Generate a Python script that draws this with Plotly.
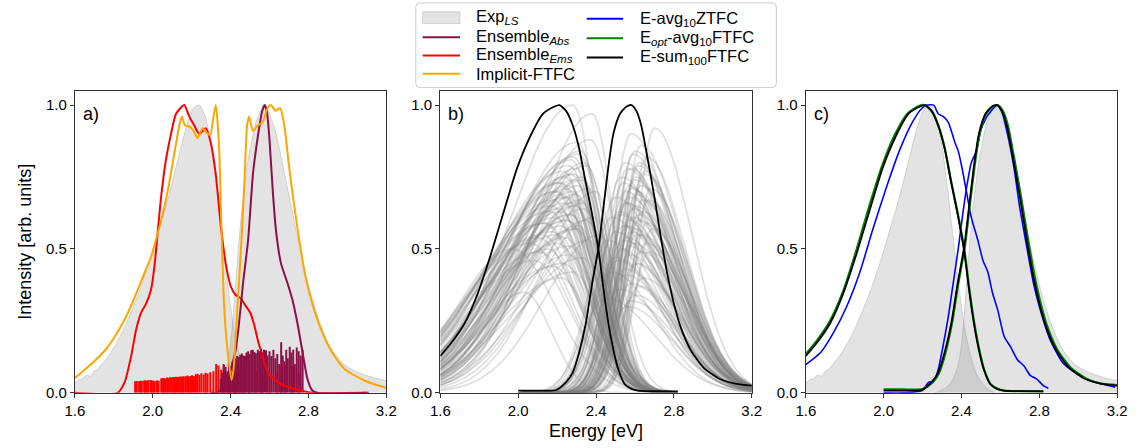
import numpy as np
import plotly.graph_objects as go

W, H = 1142, 448
FONT = "Liberation Sans, Arial, Helvetica, sans-serif"

# ---------------- data ----------------
# Experimental line shapes (Exp_LS)
exp_em_E = [1.60, 1.62, 1.64, 1.66, 1.68, 1.70, 1.72, 1.74, 1.78, 1.82, 1.86, 1.90, 1.94, 1.98,
            2.02, 2.06, 2.10, 2.14, 2.18, 2.21, 2.24, 2.27, 2.30, 2.33, 2.36, 2.39, 2.42, 2.45,
            2.48, 2.51, 2.54, 2.57]
exp_em_y = [0.035, 0.045, 0.050, 0.062, 0.058, 0.075, 0.085, 0.100, 0.135, 0.180, 0.235, 0.300,
            0.370, 0.450, 0.540, 0.630, 0.730, 0.840, 0.940, 0.990, 1.000, 0.960, 0.860, 0.700,
            0.520, 0.350, 0.210, 0.120, 0.060, 0.030, 0.012, 0.000]
exp_abs_E = [2.26, 2.30, 2.34, 2.37, 2.39, 2.41, 2.43, 2.45, 2.47, 2.49, 2.51, 2.53, 2.555, 2.58,
             2.60, 2.63, 2.66, 2.69, 2.72, 2.75, 2.78, 2.81, 2.85, 2.89, 2.93, 2.98, 3.04, 3.10,
             3.15, 3.20]
exp_abs_y = [0.000, 0.010, 0.030, 0.070, 0.120, 0.240, 0.420, 0.580, 0.710, 0.810, 0.880, 0.940,
             0.980, 1.000, 0.970, 0.910, 0.820, 0.720, 0.620, 0.520, 0.430, 0.350, 0.260, 0.190,
             0.140, 0.100, 0.075, 0.060, 0.050, 0.042]

# Ensemble (panel a)
ens_ems_E = [1.60, 1.82, 1.856, 1.89, 1.915, 1.941, 1.966, 1.992, 2.009, 2.026, 2.043, 2.068,
             2.094, 2.12, 2.162, 2.188, 2.213, 2.239, 2.273, 2.298, 2.324, 2.35, 2.375, 2.401,
             2.426, 2.45, 2.475, 2.50, 2.52, 2.545, 2.56, 2.585, 2.62, 2.66, 2.72, 2.78, 2.82, 3.10]
ens_ems_y = [0.0, 0.0, 0.037, 0.13, 0.22, 0.28, 0.31, 0.36, 0.44, 0.56, 0.68, 0.81, 0.90, 0.97,
             1.0, 0.96, 0.93, 0.90, 0.92, 0.87, 0.76, 0.58, 0.45, 0.37, 0.34, 0.33, 0.305, 0.28,
             0.24, 0.17, 0.14, 0.08, 0.05, 0.03, 0.015, 0.005, 0.0, 0.0]
ens_abs_E = [2.30, 2.33, 2.37, 2.40, 2.426, 2.44, 2.464, 2.49, 2.515, 2.54, 2.563, 2.575, 2.586,
             2.60, 2.617, 2.634, 2.659, 2.693, 2.719, 2.744, 2.77, 2.795, 2.82, 2.85, 3.11]
ens_abs_y = [0.0, 0.0, 0.03, 0.08, 0.15, 0.22, 0.38, 0.53, 0.76, 0.89, 0.98, 1.0, 0.98, 0.88,
             0.70, 0.56, 0.45, 0.38, 0.32, 0.24, 0.14, 0.048, 0.008, 0.0, 0.0]
implicit_E = [1.60, 1.65, 1.70, 1.755, 1.80, 1.856, 1.90, 1.96, 1.99, 2.02, 2.058, 2.085, 2.108,
              2.137, 2.150, 2.165, 2.19, 2.21, 2.23, 2.256, 2.275, 2.295, 2.31, 2.324, 2.34,
              2.353, 2.367, 2.384, 2.405, 2.415, 2.43, 2.456, 2.473, 2.485, 2.495, 2.515, 2.54,
              2.565, 2.59, 2.608, 2.63, 2.654, 2.676, 2.70, 2.727, 2.753, 2.786, 2.829, 2.871,
              2.922, 2.99, 3.09, 3.20]
implicit_y = [0.051, 0.08, 0.11, 0.148, 0.19, 0.255, 0.32, 0.42, 0.47, 0.54, 0.64, 0.73, 0.82,
              0.93, 0.96, 0.93, 0.925, 0.91, 0.885, 0.92, 0.905, 0.895, 0.95, 1.0, 0.87, 0.58,
              0.30, 0.15, 0.045, 0.08, 0.24, 0.53, 0.76, 0.93, 0.96, 0.91, 0.93, 0.94, 0.99, 1.0,
              0.98, 0.99, 0.93, 0.79, 0.65, 0.53, 0.40, 0.29, 0.21, 0.14, 0.08, 0.042, 0.017]

# stick spectra (panel a)
stick_ems_E = [1.910, 1.918, 1.930, 1.938, 1.944, 1.956, 1.962, 1.970, 1.978, 1.990, 1.996, 2.004,
               2.010, 2.022, 2.030, 2.044, 2.050, 2.058, 2.066, 2.074, 2.082, 2.090, 2.098, 2.106,
               2.114, 2.120, 2.130, 2.138, 2.146, 2.154, 2.160, 2.170, 2.178, 2.186, 2.194, 2.202,
               2.212, 2.222, 2.230, 2.240, 2.250, 2.262, 2.272, 2.282, 2.296, 2.312, 2.326, 2.338,
               2.352, 2.364, 2.380, 2.392, 2.404, 2.418, 2.428, 2.442, 2.456, 2.470, 2.495, 2.530,
               2.560, 2.600, 2.640, 2.660, 2.680, 2.715, 2.750]
stick_ems_h = [0.040, 0.041, 0.040, 0.042, 0.041, 0.043, 0.044, 0.042, 0.045, 0.045, 0.043, 0.042,
               0.040, 0.043, 0.042, 0.050, 0.052, 0.051, 0.050, 0.053, 0.052, 0.054, 0.053, 0.055,
               0.054, 0.056, 0.055, 0.057, 0.056, 0.058, 0.057, 0.058, 0.060, 0.057, 0.059, 0.061,
               0.058, 0.065, 0.066, 0.062, 0.068, 0.064, 0.070, 0.067, 0.072, 0.075, 0.100, 0.095,
               0.080, 0.100, 0.068, 0.070, 0.068, 0.065, 0.070, 0.080, 0.090, 0.060, 0.105, 0.080,
               0.070, 0.060, 0.075, 0.097, 0.097, 0.095, 0.068]
stick_abs_E = [2.350, 2.358, 2.366, 2.374, 2.384, 2.392, 2.400, 2.410, 2.418, 2.426,
               2.434, 2.442, 2.450, 2.458, 2.466, 2.474, 2.482, 2.490, 2.498, 2.506,
               2.514, 2.522, 2.530, 2.540, 2.548, 2.556, 2.564, 2.572, 2.582, 2.590,
               2.600, 2.610, 2.620, 2.630, 2.640, 2.650, 2.660, 2.668, 2.676, 2.686,
               2.694, 2.704, 2.712, 2.722, 2.730, 2.740, 2.750, 2.760, 2.770]
stick_abs_h = [0.050, 0.070, 0.097, 0.090, 0.075, 0.100, 0.060, 0.110, 0.125, 0.120,
               0.128, 0.125, 0.132, 0.137, 0.130, 0.128, 0.140, 0.145, 0.135, 0.148,
               0.150, 0.142, 0.138, 0.150, 0.145, 0.152, 0.140, 0.150, 0.148, 0.130,
               0.145, 0.128, 0.150, 0.120, 0.135, 0.100, 0.176, 0.130, 0.110, 0.150,
               0.120, 0.160, 0.140, 0.150, 0.100, 0.158, 0.145, 0.130, 0.150]

# individual ensemble members (panel b): peak position, height, left / right widths
mem_em_c = [2.28, 2.38, 2.37, 2.30, 2.32, 2.28, 2.34, 2.26, 2.30, 2.27, 2.24, 2.29, 2.22, 2.31,
            2.25, 2.20, 2.28, 2.23, 2.26, 2.18, 2.24, 2.29, 2.21, 2.16, 2.27, 2.19, 2.25, 2.14,
            2.22, 2.30, 2.17, 2.12, 2.24, 2.10, 2.20, 2.06, 2.15, 1.97, 2.26, 2.08, 2.18, 2.03,
            2.22, 2.35, 2.40, 2.33, 2.42, 2.33,
            2.31, 2.27, 2.35, 2.23, 2.29, 2.33, 2.21, 2.26, 2.36, 2.19, 2.30, 2.24, 2.32, 2.28,
            2.17, 2.34, 2.22, 2.27, 2.39, 2.25, 2.13, 2.31, 2.29, 2.20, 2.36, 2.26, 2.11, 2.33,
            2.23, 2.28]
mem_em_h = [1.00, 0.97, 0.88, 0.87, 0.84, 0.82, 0.80, 0.79, 0.78, 0.76, 0.75, 0.74, 0.73, 0.72,
            0.71, 0.70, 0.70, 0.69, 0.68, 0.67, 0.66, 0.65, 0.64, 0.63, 0.62, 0.61, 0.60, 0.59,
            0.58, 0.57, 0.56, 0.55, 0.54, 0.54, 0.52, 0.52, 0.50, 0.50, 0.48, 0.46, 0.44, 0.35,
            0.40, 0.60, 0.70, 0.75, 0.55, 0.66,
            0.83, 0.81, 0.79, 0.77, 0.76, 0.74, 0.73, 0.72, 0.71, 0.70, 0.69, 0.68, 0.67, 0.66,
            0.65, 0.64, 0.63, 0.62, 0.61, 0.60, 0.59, 0.58, 0.57, 0.55, 0.53, 0.51, 0.49, 0.47,
            0.45, 0.42]
mem_em_wl = [0.32, 0.29, 0.31, 0.34, 0.33, 0.35, 0.31, 0.35, 0.33, 0.34, 0.35, 0.32, 0.36, 0.32,
             0.34, 0.36, 0.31, 0.35, 0.33, 0.37, 0.34, 0.32, 0.35, 0.37, 0.33, 0.35, 0.34, 0.37,
             0.35, 0.31, 0.36, 0.36, 0.33, 0.34, 0.34, 0.35, 0.33, 0.28, 0.32, 0.34, 0.33, 0.22,
             0.32, 0.30, 0.28, 0.29, 0.28, 0.32,
             0.33, 0.35, 0.32, 0.36, 0.34, 0.33, 0.37, 0.35, 0.31, 0.37, 0.34, 0.36, 0.33, 0.35,
             0.38, 0.32, 0.36, 0.34, 0.30, 0.35, 0.37, 0.33, 0.34, 0.36, 0.31, 0.35, 0.36, 0.32,
             0.35, 0.34]
mem_em_wr = [0.12, 0.11, 0.13, 0.14, 0.12, 0.15, 0.13, 0.14, 0.12, 0.15, 0.14, 0.13, 0.16, 0.12,
             0.15, 0.16, 0.14, 0.13, 0.16, 0.17, 0.14, 0.15, 0.15, 0.18, 0.13, 0.16, 0.17, 0.18,
             0.15, 0.14, 0.17, 0.19, 0.16, 0.20, 0.18, 0.20, 0.17, 0.22, 0.15, 0.19, 0.16, 0.14,
             0.15, 0.12, 0.10, 0.11, 0.10, 0.12,
             0.13, 0.14, 0.12, 0.15, 0.13, 0.12, 0.15, 0.14, 0.11, 0.16, 0.13, 0.15, 0.12, 0.14,
             0.17, 0.12, 0.15, 0.14, 0.11, 0.15, 0.18, 0.13, 0.14, 0.16, 0.12, 0.15, 0.18, 0.12,
             0.16, 0.14]
mem_abs_c = [2.70, 2.58, 2.63, 2.60, 2.66, 2.55, 2.62, 2.58, 2.65, 2.53, 2.60, 2.57, 2.68, 2.55,
             2.61, 2.50, 2.64, 2.56, 2.59, 2.52, 2.62, 2.48, 2.57, 2.66, 2.54, 2.60, 2.50, 2.63,
             2.56, 2.46, 2.59, 2.53, 2.67, 2.57, 2.51, 2.61, 2.55, 2.48, 2.64, 2.58, 2.52, 2.60,
             2.45, 2.56,
             2.59, 2.62, 2.56, 2.65, 2.60, 2.54, 2.63, 2.58, 2.61, 2.57, 2.67, 2.55, 2.60, 2.64,
             2.52, 2.59, 2.62, 2.56, 2.69, 2.58, 2.61, 2.54, 2.66, 2.57, 2.63, 2.50, 2.60, 2.55,
             2.62, 2.58]
mem_abs_h = [0.92, 0.90, 0.86, 0.84, 0.82, 0.80, 0.79, 0.78, 0.76, 0.75, 0.74, 0.72, 0.71, 0.70,
             0.69, 0.68, 0.67, 0.66, 0.64, 0.63, 0.62, 0.61, 0.60, 0.59, 0.58, 0.57, 0.56, 0.55,
             0.54, 0.53, 0.52, 0.50, 0.49, 0.48, 0.46, 0.45, 0.43, 0.42, 0.40, 0.38, 0.36, 0.34,
             0.33, 0.30,
             0.83, 0.80, 0.78, 0.77, 0.75, 0.73, 0.72, 0.71, 0.70, 0.68, 0.67, 0.66, 0.65, 0.63,
             0.62, 0.61, 0.60, 0.58, 0.57, 0.56, 0.55, 0.53, 0.52, 0.51, 0.49, 0.47, 0.45, 0.41,
             0.37, 0.32]
mem_abs_wl = [0.09, 0.10, 0.09, 0.10, 0.09, 0.11, 0.09, 0.10, 0.09, 0.11, 0.10, 0.09, 0.08, 0.10,
              0.09, 0.11, 0.09, 0.10, 0.09, 0.11, 0.09, 0.11, 0.10, 0.08, 0.10, 0.09, 0.11, 0.09,
              0.10, 0.11, 0.09, 0.10, 0.08, 0.10, 0.11, 0.09, 0.10, 0.11, 0.08, 0.10, 0.11, 0.09,
              0.12, 0.10,
              0.09, 0.10, 0.09, 0.10, 0.09, 0.10, 0.09, 0.10, 0.09, 0.10, 0.09, 0.10, 0.09, 0.10,
              0.11, 0.09, 0.10, 0.09, 0.09, 0.10, 0.09, 0.11, 0.10, 0.09, 0.10, 0.11, 0.09, 0.10,
              0.09, 0.10]
mem_abs_wr = [0.19, 0.22, 0.21, 0.23, 0.20, 0.24, 0.21, 0.22, 0.21, 0.24, 0.23, 0.22, 0.20, 0.24,
              0.22, 0.25, 0.21, 0.23, 0.24, 0.23, 0.21, 0.25, 0.23, 0.22, 0.24, 0.22, 0.24, 0.23,
              0.21, 0.25, 0.23, 0.22, 0.22, 0.24, 0.23, 0.21, 0.24, 0.23, 0.22, 0.23, 0.24, 0.22,
              0.25, 0.23,
              0.22, 0.21, 0.23, 0.20, 0.22, 0.24, 0.21, 0.23, 0.22, 0.24, 0.20, 0.23, 0.22, 0.21,
              0.25, 0.22, 0.23, 0.24, 0.20, 0.22, 0.23, 0.25, 0.21, 0.22, 0.23, 0.25, 0.22, 0.24,
              0.21, 0.23]

# E-sum_100 FTFC (panels b, c)
esum_em_E = [1.60, 1.657, 1.725, 1.792, 1.859, 1.926, 1.994, 2.061, 2.128, 2.187, 2.212, 2.246,
             2.28, 2.313, 2.347, 2.38, 2.414, 2.439, 2.464, 2.489, 2.514, 2.548, 2.582, 2.615,
             2.70, 2.82]
esum_em_y = [0.128, 0.174, 0.242, 0.345, 0.48, 0.63, 0.78, 0.89, 0.97, 0.995, 1.0, 0.98, 0.93,
             0.85, 0.73, 0.62, 0.49, 0.356, 0.24, 0.15, 0.082, 0.03, 0.014, 0.008, 0.006, 0.005]
esum_abs_E = [2.00, 2.10, 2.196, 2.246, 2.28, 2.313, 2.347, 2.38, 2.414, 2.439, 2.464, 2.489,
              2.523, 2.557, 2.582, 2.607, 2.632, 2.666, 2.70, 2.733, 2.767, 2.80, 2.834, 2.885,
              2.952, 3.036, 3.12, 3.20]
esum_abs_y = [0.008, 0.008, 0.01, 0.037, 0.07, 0.14, 0.24, 0.38, 0.51, 0.65, 0.79, 0.90, 0.97,
              0.995, 1.0, 0.98, 0.93, 0.81, 0.68, 0.54, 0.41, 0.31, 0.23, 0.15, 0.088, 0.048,
              0.031, 0.025]
# E_opt-avg_10 FTFC (panel c)
eopt_em_E = [1.60, 1.655, 1.72, 1.79, 1.855, 1.92, 1.99, 2.056, 2.124, 2.184, 2.21, 2.245, 2.28,
             2.314, 2.348, 2.382, 2.416, 2.441, 2.466, 2.491, 2.516, 2.55, 2.585, 2.62, 2.70, 2.82]
eopt_em_y = [0.135, 0.18, 0.245, 0.35, 0.485, 0.635, 0.785, 0.895, 0.972, 0.998, 1.0, 0.98, 0.93,
             0.85, 0.73, 0.62, 0.49, 0.356, 0.24, 0.15, 0.082, 0.03, 0.014, 0.008, 0.006, 0.005]
eopt_abs_E = [2.00, 2.10, 2.20, 2.25, 2.284, 2.317, 2.35, 2.383, 2.417, 2.442, 2.467, 2.492,
              2.526, 2.56, 2.586, 2.612, 2.638, 2.672, 2.706, 2.74, 2.774, 2.807, 2.841, 2.892,
              2.96, 3.044, 3.126, 3.20]
eopt_abs_y = [0.012, 0.012, 0.013, 0.035, 0.068, 0.138, 0.238, 0.378, 0.508, 0.648, 0.788, 0.898,
              0.97, 0.995, 1.0, 0.98, 0.93, 0.81, 0.68, 0.54, 0.41, 0.31, 0.23, 0.15, 0.088,
              0.048, 0.031, 0.027]
# E-avg_10 ZTFC (panel c)
eavg_em_E = [1.60, 1.676, 1.743, 1.81, 1.878, 1.945, 2.012, 2.08, 2.147, 2.198, 2.223, 2.257,
             2.28, 2.307, 2.332, 2.366, 2.383, 2.40, 2.425, 2.45, 2.484, 2.51, 2.535, 2.56, 2.585,
             2.619, 2.652, 2.686, 2.72, 2.754, 2.787, 2.82, 2.846]
eavg_em_y = [0.098, 0.14, 0.21, 0.30, 0.42, 0.57, 0.71, 0.84, 0.94, 0.99, 1.0, 1.0, 0.97, 0.96,
             0.94, 0.87, 0.84, 0.79, 0.70, 0.61, 0.53, 0.46, 0.42, 0.345, 0.29, 0.196, 0.16,
             0.116, 0.094, 0.06, 0.048, 0.025, 0.016]
eavg_abs_E = [2.00, 2.10, 2.198, 2.231, 2.257, 2.28, 2.307, 2.332, 2.357, 2.383, 2.408, 2.43,
              2.45, 2.476, 2.50, 2.526, 2.552, 2.585, 2.61, 2.636, 2.67, 2.70, 2.737, 2.77, 2.804,
              2.855, 2.92, 3.006, 3.09, 3.19]
eavg_abs_y = [0.0, 0.0, 0.008, 0.037, 0.04, 0.08, 0.17, 0.265, 0.38, 0.50, 0.63, 0.73, 0.80,
              0.84, 0.915, 0.955, 0.98, 1.0, 0.97, 0.90, 0.78, 0.64, 0.50, 0.38, 0.29, 0.185,
              0.105, 0.06, 0.037, 0.02]

x_ticks = [1.6, 2.0, 2.4, 2.8, 3.2]
y_ticks = [0.0, 0.5, 1.0]
panel_labels = ["a)", "b)", "c)"]
legend_col1 = ["Exp<sub><i>LS</i></sub>", "Ensemble<sub><i>Abs</i></sub>",
               "Ensemble<sub><i>Ems</i></sub>", "Implicit-FTFC"]
legend_col2 = ["E-avg<sub>10</sub>ZTFC", "E<sub><i>opt</i></sub>-avg<sub>10</sub>FTFC",
               "E-sum<sub>100</sub>FTFC"]

# ---------------- styles ----------------
C_ABS = "#8b1045"
C_EMS = "#ff0000"
C_IMP = "#ffa500"
C_BLUE = "#0000ff"
C_GREEN = "#008000"
C_BLACK = "#000000"
FILL = "rgba(128,128,128,0.22)"
FILL_EDGE = "rgba(128,128,128,0.28)"
GREY = "rgba(128,128,128,0.25)"

fig = go.Figure()


def line(x, y, color, width, ax, shape="spline"):
    fig.add_trace(go.Scatter(x=x, y=y, mode="lines",
                             line=dict(color=color, width=width, shape=shape, smoothing=0.6),
                             xaxis="x" + ax, yaxis="y" + ax, showlegend=False,
                             hoverinfo="skip"))


def fill(x, y, ax):
    fig.add_trace(go.Scatter(x=x, y=y, mode="lines", fill="tozeroy", fillcolor=FILL,
                             line=dict(color=FILL_EDGE, width=1, shape="spline", smoothing=0.6),
                             xaxis="x" + ax, yaxis="y" + ax, showlegend=False,
                             hoverinfo="skip"))


def sticks(E, h, color, ax):
    xs, ys = [], []
    for e, v in zip(E, h):
        xs += [e, e, None]
        ys += [0, v, None]
    fig.add_trace(go.Scatter(x=xs, y=ys, mode="lines", line=dict(color=color, width=2),
                             xaxis="x" + ax, yaxis="y" + ax, showlegend=False,
                             hoverinfo="skip"))


def member(c, h, wl, wr, lo, hi, ax):
    E = np.linspace(lo, hi, 160)
    s = np.where(E < c, wl, wr)
    y = h * np.exp(-0.5 * ((E - c) / s) ** 2)
    line(E, y, GREY, 1.7, ax, shape="linear")


# panel a
fill(exp_em_E, exp_em_y, "")
fill(exp_abs_E, exp_abs_y, "")
sticks(stick_ems_E, stick_ems_h, C_EMS, "")
sticks(stick_abs_E, stick_abs_h, C_ABS, "")
line(ens_ems_E, ens_ems_y, C_EMS, 2, "")
line(ens_abs_E, ens_abs_y, C_ABS, 2, "")
line(implicit_E, implicit_y, C_IMP, 2, "")

# panel b
for c, h, wl, wr in zip(mem_em_c, mem_em_h, mem_em_wl, mem_em_wr):
    member(c, h, wl, wr, 1.6, 2.82, "2")
for c, h, wl, wr in zip(mem_abs_c, mem_abs_h, mem_abs_wl, mem_abs_wr):
    member(c, h, wl, wr, 2.0, 3.2, "2")
line(esum_em_E, esum_em_y, C_BLACK, 1.8, "2")
line(esum_abs_E, esum_abs_y, C_BLACK, 1.8, "2")

# panel c
fill(exp_em_E, exp_em_y, "3")
fill(exp_abs_E, exp_abs_y, "3")
line(eavg_em_E, eavg_em_y, C_BLUE, 1.6, "3")
line(eavg_abs_E, eavg_abs_y, C_BLUE, 1.6, "3")
line(eopt_em_E, eopt_em_y, C_GREEN, 2.2, "3")
line(eopt_abs_E, eopt_abs_y, C_GREEN, 2.2, "3")
line(esum_em_E, esum_em_y, C_BLACK, 1.8, "3")
line(esum_abs_E, esum_abs_y, C_BLACK, 1.8, "3")

# ---------------- layout ----------------
def PX(x):
    return x / W


def PY(y):
    return 1 - y / H


ydom = [PY(400), PY(93)]
xdoms = [[PX(66), PX(383)], [PX(438), PX(755)], [PX(810), PX(1127)]]
axis_common = dict(showline=True, mirror=True, linecolor="#333333", linewidth=1.2,
                   ticks="outside", ticklen=4, tickwidth=1.2, tickcolor="#333333",
                   showgrid=False, zeroline=False,
                   tickfont=dict(family=FONT, size=15, color="black"))
layout = dict(width=W, height=H, margin=dict(l=0, r=0, t=0, b=0),
              paper_bgcolor="white", plot_bgcolor="white", showlegend=False)
for i, dom in enumerate(xdoms):
    sfx = "" if i == 0 else str(i + 1)
    layout["xaxis" + sfx] = dict(domain=dom, range=[1.6, 3.2], tickvals=x_ticks,
                                 tickformat=".1f", anchor="y" + sfx, **axis_common)
    layout["yaxis" + sfx] = dict(domain=ydom, range=[0, 1.0478], tickvals=y_ticks,
                                 tickformat=".1f", anchor="x" + sfx, **axis_common)
fig.update_layout(**layout)

ann = []
shapes = []
for i, lab in enumerate(panel_labels):
    x0 = [66, 438, 810][i]
    ann.append(dict(x=PX(x0 + 6), y=PY(116), xref="paper", yref="paper", text=lab,
                    showarrow=False, xanchor="left", yanchor="middle",
                    font=dict(family=FONT, size=18, color="black")))
ann.append(dict(x=PX(596.5), y=PY(439), xref="paper", yref="paper", text="Energy [eV]",
                showarrow=False, xanchor="center", yanchor="middle",
                font=dict(family=FONT, size=18, color="black")))
ann.append(dict(x=PX(15), y=PY(246.5), xref="paper", yref="paper",
                text="Intensity [arb. units]", textangle=-90, showarrow=False,
                xanchor="center", yanchor="middle",
                font=dict(family=FONT, size=18, color="black")))

# legend (manual, two columns)
bx0, bx1, by0, by1, r = 413, 780, 3, 89, 4
path = (f"M {PX(bx0 + r)},{PY(by0)} L {PX(bx1 - r)},{PY(by0)} "
        f"Q {PX(bx1)},{PY(by0)} {PX(bx1)},{PY(by0 + r)} "
        f"L {PX(bx1)},{PY(by1 - r)} Q {PX(bx1)},{PY(by1)} {PX(bx1 - r)},{PY(by1)} "
        f"L {PX(bx0 + r)},{PY(by1)} Q {PX(bx0)},{PY(by1)} {PX(bx0)},{PY(by1 - r)} "
        f"L {PX(bx0)},{PY(by0 + r)} Q {PX(bx0)},{PY(by0)} {PX(bx0 + r)},{PY(by0)} Z")
shapes.append(dict(type="path", path=path, xref="paper", yref="paper",
                   line=dict(color="#cccccc", width=1), fillcolor="white", layer="above"))
rows1 = [17.5, 38.0, 56.5, 75.0]
rows2 = [19.0, 39.0, 58.5]
col1_colors = [None, C_ABS, C_EMS, C_IMP]
col2_colors = [C_BLUE, C_GREEN, C_BLACK]
LEG_FONT = dict(family=FONT, size=16.5, color="black")
for txt, yy, col in zip(legend_col1, rows1, col1_colors):
    if col is None:
        shapes.append(dict(type="rect", xref="paper", yref="paper", x0=PX(420), x1=PX(458),
                           y0=PY(yy - 5.5), y1=PY(yy + 6.5), fillcolor=FILL,
                           line=dict(color=FILL_EDGE, width=1), layer="above"))
    else:
        shapes.append(dict(type="line", xref="paper", yref="paper", x0=PX(420), x1=PX(458),
                           y0=PY(yy), y1=PY(yy), line=dict(color=col, width=2), layer="above"))
    ann.append(dict(x=PX(472), y=PY(yy), xref="paper", yref="paper", text=txt,
                    showarrow=False, xanchor="left", yanchor="middle",
                    font=LEG_FONT))
for txt, yy, col in zip(legend_col2, rows2, col2_colors):
    shapes.append(dict(type="line", xref="paper", yref="paper", x0=PX(587), x1=PX(624),
                       y0=PY(yy), y1=PY(yy), line=dict(color=col, width=2), layer="above"))
    ann.append(dict(x=PX(639), y=PY(yy), xref="paper", yref="paper", text=txt,
                    showarrow=False, xanchor="left", yanchor="middle",
                    font=LEG_FONT))

fig.update_layout(annotations=ann, shapes=shapes)
fig.write_html("out.html")
